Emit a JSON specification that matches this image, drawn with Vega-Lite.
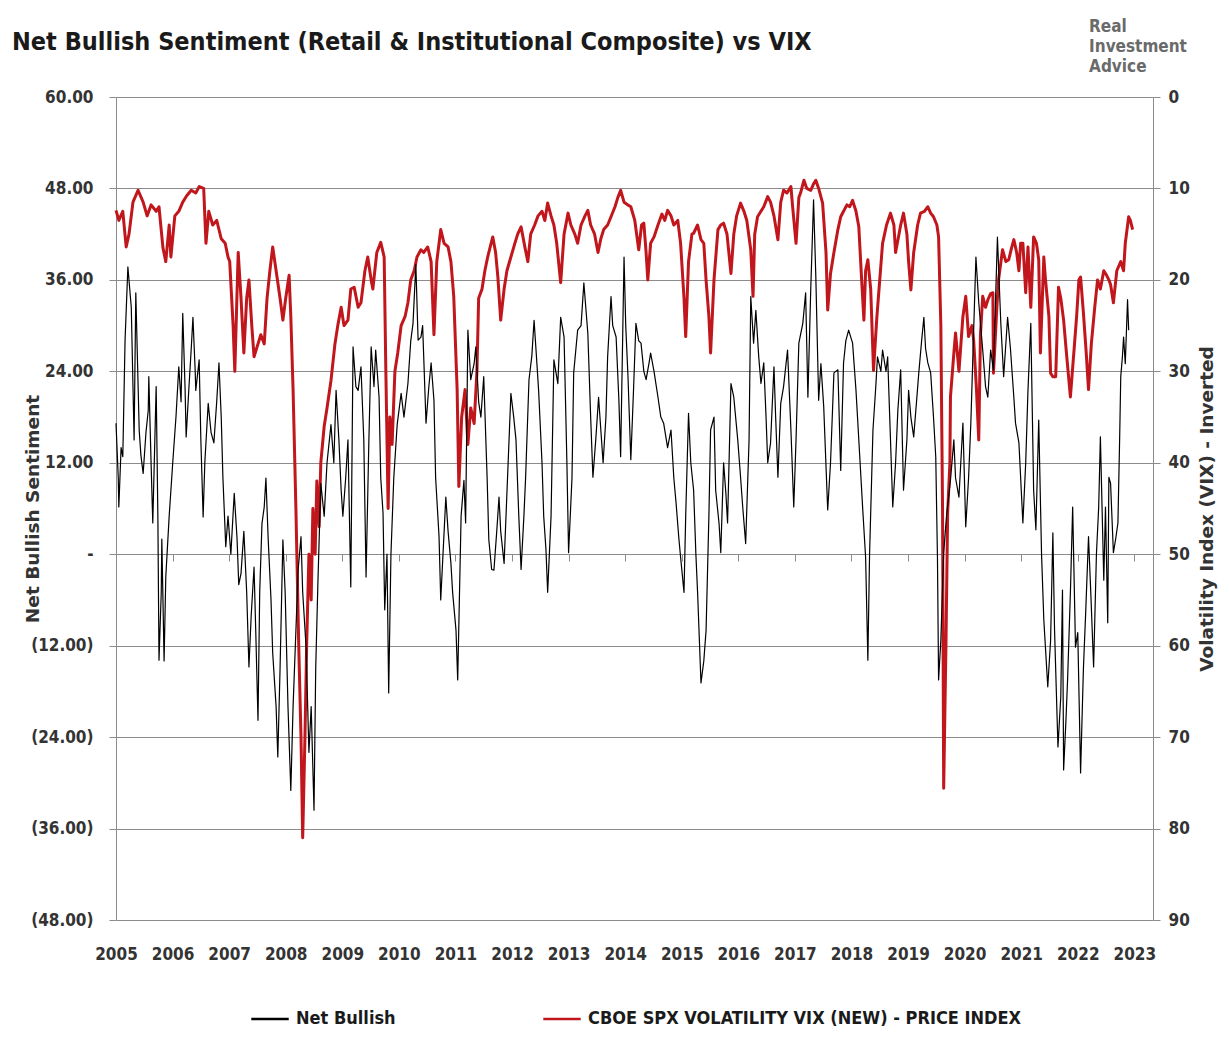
{
  "$schema": "https://vega.github.io/schema/vega-lite/v6.json",
  "width": 1037,
  "height": 823,
  "autosize": {"type": "none"},
  "padding": {"left": 116, "top": 97, "right": 76, "bottom": 142},
  "background": "white",
  "config": {"view": {"stroke": null}, "font": "DejaVu Sans Condensed, Roboto, sans-serif"},
  "title": {
    "text": "Net Bullish Sentiment (Retail & Institutional Composite) vs VIX",
    "anchor": "start",
    "frame": "group",
    "dx": -104,
    "offset": 0,
    "dy": 57,
    "baseline": "alphabetic",
    "fontSize": 25,
    "font": "DejaVu Sans Condensed, Roboto, sans-serif",
    "fontWeight": "bold",
    "color": "#1a1a1a"
  },
  "datasets": {
    "vix": [
      {"year": 2005.00, "value": 12.4}, {"year": 2005.05, "value": 13.5}, {"year": 2005.12, "value": 12.5}, {"year": 2005.18, "value": 16.4},
      {"year": 2005.23, "value": 15}, {"year": 2005.30, "value": 11.5}, {"year": 2005.39, "value": 10.2}, {"year": 2005.48, "value": 11.5},
      {"year": 2005.55, "value": 13}, {"year": 2005.62, "value": 11.8}, {"year": 2005.71, "value": 12.5}, {"year": 2005.76, "value": 12},
      {"year": 2005.83, "value": 16.5}, {"year": 2005.88, "value": 18}, {"year": 2005.94, "value": 14}, {"year": 2005.97, "value": 17.5},
      {"year": 2006.04, "value": 13}, {"year": 2006.11, "value": 12.5}, {"year": 2006.18, "value": 11.5}, {"year": 2006.25, "value": 10.8},
      {"year": 2006.33, "value": 10.2}, {"year": 2006.41, "value": 10.5}, {"year": 2006.47, "value": 9.8}, {"year": 2006.55, "value": 10},
      {"year": 2006.59, "value": 16}, {"year": 2006.64, "value": 12.5}, {"year": 2006.71, "value": 14}, {"year": 2006.78, "value": 13.5},
      {"year": 2006.86, "value": 15.5}, {"year": 2006.93, "value": 16}, {"year": 2006.98, "value": 17.5}, {"year": 2007.01, "value": 18},
      {"year": 2007.07, "value": 25}, {"year": 2007.10, "value": 30}, {"year": 2007.16, "value": 17}, {"year": 2007.21, "value": 22},
      {"year": 2007.26, "value": 28}, {"year": 2007.31, "value": 22}, {"year": 2007.35, "value": 20}, {"year": 2007.40, "value": 25},
      {"year": 2007.44, "value": 28.4}, {"year": 2007.51, "value": 27}, {"year": 2007.56, "value": 26}, {"year": 2007.62, "value": 27},
      {"year": 2007.67, "value": 22}, {"year": 2007.72, "value": 19}, {"year": 2007.77, "value": 16.4}, {"year": 2007.83, "value": 19},
      {"year": 2007.90, "value": 22}, {"year": 2007.95, "value": 24.4}, {"year": 2008.00, "value": 22}, {"year": 2008.06, "value": 19.5},
      {"year": 2008.09, "value": 24}, {"year": 2008.13, "value": 32}, {"year": 2008.18, "value": 45}, {"year": 2008.23, "value": 60},
      {"year": 2008.27, "value": 70}, {"year": 2008.30, "value": 81}, {"year": 2008.34, "value": 70}, {"year": 2008.37, "value": 60},
      {"year": 2008.41, "value": 50}, {"year": 2008.45, "value": 55}, {"year": 2008.48, "value": 45}, {"year": 2008.52, "value": 50},
      {"year": 2008.55, "value": 42}, {"year": 2008.59, "value": 47}, {"year": 2008.62, "value": 40}, {"year": 2008.68, "value": 36},
      {"year": 2008.73, "value": 34}, {"year": 2008.80, "value": 31}, {"year": 2008.87, "value": 27}, {"year": 2008.92, "value": 25},
      {"year": 2008.98, "value": 23}, {"year": 2009.03, "value": 25}, {"year": 2009.10, "value": 24.4}, {"year": 2009.15, "value": 21},
      {"year": 2009.21, "value": 20.8}, {"year": 2009.28, "value": 23}, {"year": 2009.33, "value": 22.5}, {"year": 2009.40, "value": 19},
      {"year": 2009.45, "value": 17.5}, {"year": 2009.51, "value": 20}, {"year": 2009.54, "value": 21}, {"year": 2009.61, "value": 17},
      {"year": 2009.68, "value": 15.9}, {"year": 2009.74, "value": 17.5}, {"year": 2009.77, "value": 30}, {"year": 2009.81, "value": 45},
      {"year": 2009.84, "value": 35}, {"year": 2009.88, "value": 38}, {"year": 2009.93, "value": 30}, {"year": 2009.98, "value": 28},
      {"year": 2010.04, "value": 25}, {"year": 2010.11, "value": 24}, {"year": 2010.16, "value": 22.5}, {"year": 2010.21, "value": 20},
      {"year": 2010.27, "value": 19}, {"year": 2010.32, "value": 17.5}, {"year": 2010.39, "value": 16.7}, {"year": 2010.44, "value": 17},
      {"year": 2010.51, "value": 16.4}, {"year": 2010.57, "value": 18}, {"year": 2010.62, "value": 26}, {"year": 2010.67, "value": 18},
      {"year": 2010.74, "value": 14.5}, {"year": 2010.80, "value": 16}, {"year": 2010.87, "value": 16.4}, {"year": 2010.92, "value": 18},
      {"year": 2010.97, "value": 21.8}, {"year": 2011.03, "value": 32}, {"year": 2011.06, "value": 42.6}, {"year": 2011.11, "value": 35},
      {"year": 2011.17, "value": 32}, {"year": 2011.22, "value": 38}, {"year": 2011.27, "value": 34}, {"year": 2011.33, "value": 35.7},
      {"year": 2011.38, "value": 30}, {"year": 2011.41, "value": 22}, {"year": 2011.47, "value": 21}, {"year": 2011.52, "value": 19},
      {"year": 2011.57, "value": 17.5}, {"year": 2011.63, "value": 16}, {"year": 2011.66, "value": 15.3}, {"year": 2011.71, "value": 17},
      {"year": 2011.75, "value": 19.7}, {"year": 2011.80, "value": 24.4}, {"year": 2011.86, "value": 21}, {"year": 2011.91, "value": 19},
      {"year": 2011.98, "value": 17.5}, {"year": 2012.05, "value": 16}, {"year": 2012.10, "value": 15}, {"year": 2012.16, "value": 14.2},
      {"year": 2012.23, "value": 16.5}, {"year": 2012.28, "value": 18}, {"year": 2012.33, "value": 15}, {"year": 2012.40, "value": 14},
      {"year": 2012.46, "value": 13}, {"year": 2012.53, "value": 12.5}, {"year": 2012.58, "value": 13.5}, {"year": 2012.63, "value": 11.6},
      {"year": 2012.69, "value": 13}, {"year": 2012.74, "value": 14}, {"year": 2012.79, "value": 16}, {"year": 2012.86, "value": 20.3},
      {"year": 2012.92, "value": 15}, {"year": 2012.99, "value": 12.7}, {"year": 2013.04, "value": 14}, {"year": 2013.11, "value": 15},
      {"year": 2013.16, "value": 16}, {"year": 2013.22, "value": 14}, {"year": 2013.29, "value": 13}, {"year": 2013.34, "value": 12.4},
      {"year": 2013.39, "value": 14}, {"year": 2013.46, "value": 15}, {"year": 2013.52, "value": 17}, {"year": 2013.57, "value": 15.5},
      {"year": 2013.62, "value": 14.5}, {"year": 2013.69, "value": 14}, {"year": 2013.75, "value": 13.1}, {"year": 2013.82, "value": 12},
      {"year": 2013.87, "value": 11}, {"year": 2013.92, "value": 10.2}, {"year": 2013.98, "value": 11.5}, {"year": 2014.05, "value": 11.8},
      {"year": 2014.10, "value": 12}, {"year": 2014.17, "value": 13.5}, {"year": 2014.24, "value": 16.7}, {"year": 2014.29, "value": 14},
      {"year": 2014.33, "value": 13.8}, {"year": 2014.37, "value": 17}, {"year": 2014.40, "value": 20}, {"year": 2014.45, "value": 16},
      {"year": 2014.51, "value": 15.3}, {"year": 2014.58, "value": 14}, {"year": 2014.65, "value": 12.8}, {"year": 2014.70, "value": 13.5},
      {"year": 2014.75, "value": 12.4}, {"year": 2014.81, "value": 13}, {"year": 2014.86, "value": 14}, {"year": 2014.93, "value": 13.5},
      {"year": 2014.98, "value": 16}, {"year": 2015.04, "value": 22}, {"year": 2015.07, "value": 26.2}, {"year": 2015.12, "value": 18},
      {"year": 2015.18, "value": 15}, {"year": 2015.21, "value": 14.9}, {"year": 2015.28, "value": 14}, {"year": 2015.34, "value": 15.6},
      {"year": 2015.39, "value": 16}, {"year": 2015.43, "value": 20}, {"year": 2015.48, "value": 24}, {"year": 2015.51, "value": 28},
      {"year": 2015.57, "value": 20}, {"year": 2015.64, "value": 14.5}, {"year": 2015.69, "value": 14}, {"year": 2015.74, "value": 13.8},
      {"year": 2015.80, "value": 15}, {"year": 2015.87, "value": 19.3}, {"year": 2015.92, "value": 15}, {"year": 2015.97, "value": 13},
      {"year": 2016.04, "value": 11.6}, {"year": 2016.10, "value": 12.5}, {"year": 2016.15, "value": 13.5}, {"year": 2016.22, "value": 16.7},
      {"year": 2016.26, "value": 21.8}, {"year": 2016.29, "value": 15}, {"year": 2016.34, "value": 13.1}, {"year": 2016.40, "value": 12.5},
      {"year": 2016.45, "value": 12}, {"year": 2016.52, "value": 10.9}, {"year": 2016.57, "value": 11.5}, {"year": 2016.63, "value": 13},
      {"year": 2016.70, "value": 15.6}, {"year": 2016.75, "value": 11.5}, {"year": 2016.80, "value": 10.2}, {"year": 2016.86, "value": 10.5},
      {"year": 2016.93, "value": 9.8}, {"year": 2016.96, "value": 12}, {"year": 2017.02, "value": 16}, {"year": 2017.07, "value": 11},
      {"year": 2017.10, "value": 10.5}, {"year": 2017.16, "value": 9.1}, {"year": 2017.21, "value": 10}, {"year": 2017.28, "value": 10.2},
      {"year": 2017.33, "value": 9.5}, {"year": 2017.37, "value": 9.1}, {"year": 2017.42, "value": 10}, {"year": 2017.49, "value": 11.6},
      {"year": 2017.55, "value": 17}, {"year": 2017.58, "value": 23.3}, {"year": 2017.63, "value": 19.3}, {"year": 2017.69, "value": 17},
      {"year": 2017.76, "value": 14.5}, {"year": 2017.81, "value": 13.1}, {"year": 2017.86, "value": 12.5}, {"year": 2017.92, "value": 11.8},
      {"year": 2017.97, "value": 12}, {"year": 2018.02, "value": 11.3}, {"year": 2018.08, "value": 12.5}, {"year": 2018.13, "value": 14.2},
      {"year": 2018.18, "value": 20}, {"year": 2018.22, "value": 24.4}, {"year": 2018.25, "value": 19}, {"year": 2018.29, "value": 17.8},
      {"year": 2018.34, "value": 21}, {"year": 2018.39, "value": 29.9}, {"year": 2018.45, "value": 24}, {"year": 2018.50, "value": 20},
      {"year": 2018.55, "value": 16}, {"year": 2018.62, "value": 14}, {"year": 2018.69, "value": 12.7}, {"year": 2018.75, "value": 14},
      {"year": 2018.78, "value": 17}, {"year": 2018.84, "value": 15}, {"year": 2018.87, "value": 14}, {"year": 2018.92, "value": 12.7},
      {"year": 2018.98, "value": 15}, {"year": 2019.01, "value": 18}, {"year": 2019.05, "value": 21.1}, {"year": 2019.10, "value": 17},
      {"year": 2019.17, "value": 14}, {"year": 2019.22, "value": 12.7}, {"year": 2019.29, "value": 12.5}, {"year": 2019.35, "value": 12},
      {"year": 2019.40, "value": 12.7}, {"year": 2019.45, "value": 13.1}, {"year": 2019.51, "value": 14}, {"year": 2019.54, "value": 15.3},
      {"year": 2019.58, "value": 25}, {"year": 2019.61, "value": 45}, {"year": 2019.63, "value": 75.6}, {"year": 2019.67, "value": 60},
      {"year": 2019.70, "value": 45.5}, {"year": 2019.74, "value": 40}, {"year": 2019.75, "value": 32.8}, {"year": 2019.81, "value": 28},
      {"year": 2019.84, "value": 25.8}, {"year": 2019.90, "value": 30}, {"year": 2019.97, "value": 24}, {"year": 2020.02, "value": 21.8},
      {"year": 2020.07, "value": 26.2}, {"year": 2020.13, "value": 25}, {"year": 2020.16, "value": 26.6}, {"year": 2020.21, "value": 32},
      {"year": 2020.25, "value": 37.5}, {"year": 2020.28, "value": 26}, {"year": 2020.32, "value": 21.8}, {"year": 2020.37, "value": 23},
      {"year": 2020.41, "value": 22.2}, {"year": 2020.46, "value": 21.5}, {"year": 2020.50, "value": 21.4}, {"year": 2020.51, "value": 30.2},
      {"year": 2020.57, "value": 23}, {"year": 2020.60, "value": 20}, {"year": 2020.67, "value": 16.7}, {"year": 2020.73, "value": 18},
      {"year": 2020.78, "value": 17.8}, {"year": 2020.83, "value": 16.5}, {"year": 2020.87, "value": 15.6}, {"year": 2020.92, "value": 17},
      {"year": 2020.96, "value": 19}, {"year": 2020.99, "value": 16}, {"year": 2021.03, "value": 16}, {"year": 2021.08, "value": 21.4},
      {"year": 2021.12, "value": 16.4}, {"year": 2021.17, "value": 23}, {"year": 2021.22, "value": 15.3}, {"year": 2021.27, "value": 16},
      {"year": 2021.31, "value": 17.8}, {"year": 2021.34, "value": 28}, {"year": 2021.40, "value": 17.5}, {"year": 2021.43, "value": 20},
      {"year": 2021.49, "value": 24}, {"year": 2021.52, "value": 30.2}, {"year": 2021.56, "value": 30.6}, {"year": 2021.61, "value": 30.6},
      {"year": 2021.66, "value": 20.8}, {"year": 2021.70, "value": 22}, {"year": 2021.75, "value": 24.4}, {"year": 2021.80, "value": 28},
      {"year": 2021.87, "value": 32.8}, {"year": 2021.93, "value": 28}, {"year": 2021.98, "value": 24}, {"year": 2022.02, "value": 20},
      {"year": 2022.05, "value": 19.7}, {"year": 2022.10, "value": 23.6}, {"year": 2022.15, "value": 28}, {"year": 2022.19, "value": 32},
      {"year": 2022.24, "value": 27}, {"year": 2022.30, "value": 23}, {"year": 2022.35, "value": 20}, {"year": 2022.40, "value": 21},
      {"year": 2022.46, "value": 19}, {"year": 2022.51, "value": 19.5}, {"year": 2022.55, "value": 20}, {"year": 2022.58, "value": 20.5},
      {"year": 2022.63, "value": 22.5}, {"year": 2022.69, "value": 19}, {"year": 2022.76, "value": 18}, {"year": 2022.81, "value": 19},
      {"year": 2022.84, "value": 16}, {"year": 2022.90, "value": 13.1}, {"year": 2022.93, "value": 13.5}, {"year": 2022.97, "value": 14.5}
    ],
    "net": [
      {"year": 2005.00, "value": 17.2}, {"year": 2005.04, "value": 10}, {"year": 2005.05, "value": 6.2}, {"year": 2005.09, "value": 14},
      {"year": 2005.12, "value": 12.8}, {"year": 2005.16, "value": 28}, {"year": 2005.21, "value": 37.7}, {"year": 2005.27, "value": 32.4},
      {"year": 2005.30, "value": 22}, {"year": 2005.32, "value": 15}, {"year": 2005.35, "value": 34.3}, {"year": 2005.41, "value": 16.3},
      {"year": 2005.44, "value": 13}, {"year": 2005.48, "value": 10.6}, {"year": 2005.53, "value": 16}, {"year": 2005.57, "value": 18.9},
      {"year": 2005.58, "value": 23.3}, {"year": 2005.62, "value": 12}, {"year": 2005.65, "value": 4.1}, {"year": 2005.71, "value": 22},
      {"year": 2005.74, "value": 5}, {"year": 2005.76, "value": -13.9}, {"year": 2005.80, "value": -5}, {"year": 2005.81, "value": 2},
      {"year": 2005.85, "value": -14}, {"year": 2005.88, "value": -3}, {"year": 2005.94, "value": 5}, {"year": 2006.01, "value": 12.8},
      {"year": 2006.06, "value": 18}, {"year": 2006.11, "value": 24.6}, {"year": 2006.15, "value": 20}, {"year": 2006.18, "value": 31.6},
      {"year": 2006.22, "value": 22}, {"year": 2006.24, "value": 15.4}, {"year": 2006.29, "value": 22}, {"year": 2006.33, "value": 27},
      {"year": 2006.36, "value": 31.1}, {"year": 2006.40, "value": 24}, {"year": 2006.41, "value": 21.5}, {"year": 2006.47, "value": 25.5},
      {"year": 2006.50, "value": 15}, {"year": 2006.54, "value": 4.9}, {"year": 2006.57, "value": 12}, {"year": 2006.63, "value": 19.8},
      {"year": 2006.68, "value": 16}, {"year": 2006.73, "value": 14.6}, {"year": 2006.78, "value": 20}, {"year": 2006.82, "value": 25.1},
      {"year": 2006.86, "value": 18}, {"year": 2006.89, "value": 10}, {"year": 2006.94, "value": 1}, {"year": 2006.98, "value": 5},
      {"year": 2007.03, "value": 0}, {"year": 2007.09, "value": 8}, {"year": 2007.14, "value": 2}, {"year": 2007.17, "value": -4},
      {"year": 2007.21, "value": -2.5}, {"year": 2007.26, "value": 3}, {"year": 2007.31, "value": -5}, {"year": 2007.35, "value": -14.8},
      {"year": 2007.39, "value": -8}, {"year": 2007.44, "value": -1.7}, {"year": 2007.47, "value": -10}, {"year": 2007.51, "value": -21.8},
      {"year": 2007.54, "value": -5}, {"year": 2007.58, "value": 4}, {"year": 2007.62, "value": 6.2}, {"year": 2007.65, "value": 10},
      {"year": 2007.69, "value": 2}, {"year": 2007.74, "value": -6}, {"year": 2007.77, "value": -13}, {"year": 2007.83, "value": -20},
      {"year": 2007.86, "value": -26.6}, {"year": 2007.90, "value": -15}, {"year": 2007.95, "value": 1.9}, {"year": 2007.99, "value": -5},
      {"year": 2008.04, "value": -20}, {"year": 2008.09, "value": -31}, {"year": 2008.13, "value": -20}, {"year": 2008.18, "value": -10},
      {"year": 2008.22, "value": -2}, {"year": 2008.27, "value": 2.3}, {"year": 2008.30, "value": -5}, {"year": 2008.36, "value": -12.2},
      {"year": 2008.41, "value": -26}, {"year": 2008.45, "value": -20}, {"year": 2008.50, "value": -33.6}, {"year": 2008.53, "value": -15},
      {"year": 2008.57, "value": -3.4}, {"year": 2008.62, "value": 9.3}, {"year": 2008.68, "value": 5}, {"year": 2008.73, "value": 12},
      {"year": 2008.80, "value": 17}, {"year": 2008.85, "value": 12}, {"year": 2008.89, "value": 21.5}, {"year": 2008.94, "value": 15},
      {"year": 2008.98, "value": 8.4}, {"year": 2009.01, "value": 5}, {"year": 2009.06, "value": 10}, {"year": 2009.10, "value": 15},
      {"year": 2009.15, "value": -4.3}, {"year": 2009.19, "value": 27.2}, {"year": 2009.24, "value": 22}, {"year": 2009.28, "value": 21.5},
      {"year": 2009.33, "value": 24.6}, {"year": 2009.38, "value": 15}, {"year": 2009.42, "value": -3}, {"year": 2009.47, "value": 15},
      {"year": 2009.51, "value": 27.2}, {"year": 2009.56, "value": 22}, {"year": 2009.59, "value": 26.8}, {"year": 2009.65, "value": 20.6},
      {"year": 2009.68, "value": 10}, {"year": 2009.72, "value": 5.4}, {"year": 2009.75, "value": -7.3}, {"year": 2009.79, "value": 0},
      {"year": 2009.82, "value": -18.2}, {"year": 2009.86, "value": 0}, {"year": 2009.91, "value": 10}, {"year": 2009.97, "value": 17},
      {"year": 2010.04, "value": 21.1}, {"year": 2010.09, "value": 18}, {"year": 2010.16, "value": 22.4}, {"year": 2010.21, "value": 28},
      {"year": 2010.25, "value": 30.3}, {"year": 2010.30, "value": 38}, {"year": 2010.34, "value": 28.1}, {"year": 2010.39, "value": 28.5},
      {"year": 2010.42, "value": 30}, {"year": 2010.48, "value": 17.2}, {"year": 2010.53, "value": 22}, {"year": 2010.57, "value": 25.1},
      {"year": 2010.62, "value": 20.2}, {"year": 2010.65, "value": 10}, {"year": 2010.71, "value": 2.3}, {"year": 2010.74, "value": -6},
      {"year": 2010.80, "value": 3}, {"year": 2010.83, "value": 7.5}, {"year": 2010.87, "value": 3}, {"year": 2010.92, "value": -1.2},
      {"year": 2010.95, "value": -5}, {"year": 2011.01, "value": -10}, {"year": 2011.04, "value": -16.5}, {"year": 2011.10, "value": 5},
      {"year": 2011.15, "value": 9.7}, {"year": 2011.18, "value": 4.1}, {"year": 2011.22, "value": 29.4}, {"year": 2011.27, "value": 22.9},
      {"year": 2011.33, "value": 25}, {"year": 2011.36, "value": 27.2}, {"year": 2011.41, "value": 20}, {"year": 2011.45, "value": 18},
      {"year": 2011.50, "value": 23.3}, {"year": 2011.56, "value": 10}, {"year": 2011.59, "value": 1.9}, {"year": 2011.64, "value": -2},
      {"year": 2011.68, "value": -2.1}, {"year": 2011.73, "value": 3}, {"year": 2011.77, "value": 7.5}, {"year": 2011.80, "value": 3},
      {"year": 2011.86, "value": -1.2}, {"year": 2011.91, "value": 8}, {"year": 2011.98, "value": 21.1}, {"year": 2012.03, "value": 18},
      {"year": 2012.07, "value": 15}, {"year": 2012.12, "value": 5}, {"year": 2012.16, "value": -2}, {"year": 2012.21, "value": 5},
      {"year": 2012.24, "value": 10}, {"year": 2012.30, "value": 22.9}, {"year": 2012.35, "value": 26}, {"year": 2012.39, "value": 30.7},
      {"year": 2012.44, "value": 25}, {"year": 2012.47, "value": 21.5}, {"year": 2012.53, "value": 12}, {"year": 2012.56, "value": 5},
      {"year": 2012.60, "value": 0.6}, {"year": 2012.63, "value": -5}, {"year": 2012.69, "value": 5}, {"year": 2012.74, "value": 25.5},
      {"year": 2012.81, "value": 22.4}, {"year": 2012.86, "value": 31.1}, {"year": 2012.92, "value": 28.5}, {"year": 2012.97, "value": 12},
      {"year": 2013.00, "value": 0.2}, {"year": 2013.06, "value": 10}, {"year": 2013.09, "value": 23.8}, {"year": 2013.16, "value": 29.4},
      {"year": 2013.22, "value": 30}, {"year": 2013.27, "value": 35.6}, {"year": 2013.34, "value": 29}, {"year": 2013.39, "value": 18},
      {"year": 2013.43, "value": 10.1}, {"year": 2013.48, "value": 15}, {"year": 2013.53, "value": 20.6}, {"year": 2013.61, "value": 12},
      {"year": 2013.66, "value": 18}, {"year": 2013.69, "value": 25.9}, {"year": 2013.75, "value": 33.8}, {"year": 2013.78, "value": 30},
      {"year": 2013.84, "value": 28.5}, {"year": 2013.89, "value": 20}, {"year": 2013.92, "value": 12.8}, {"year": 2013.98, "value": 39},
      {"year": 2014.01, "value": 30}, {"year": 2014.05, "value": 23.3}, {"year": 2014.10, "value": 12.4}, {"year": 2014.15, "value": 22},
      {"year": 2014.19, "value": 30.3}, {"year": 2014.24, "value": 28}, {"year": 2014.28, "value": 27.7}, {"year": 2014.33, "value": 24},
      {"year": 2014.37, "value": 22.9}, {"year": 2014.42, "value": 25}, {"year": 2014.45, "value": 26.4}, {"year": 2014.51, "value": 24},
      {"year": 2014.58, "value": 20.6}, {"year": 2014.63, "value": 18}, {"year": 2014.68, "value": 17.2}, {"year": 2014.75, "value": 14},
      {"year": 2014.81, "value": 16.3}, {"year": 2014.86, "value": 10}, {"year": 2014.90, "value": 6.7}, {"year": 2014.95, "value": 2},
      {"year": 2014.98, "value": -0.4}, {"year": 2015.04, "value": -5}, {"year": 2015.07, "value": 5}, {"year": 2015.12, "value": 18.5},
      {"year": 2015.16, "value": 12}, {"year": 2015.21, "value": 8.4}, {"year": 2015.25, "value": 0}, {"year": 2015.28, "value": -5},
      {"year": 2015.34, "value": -16.9}, {"year": 2015.39, "value": -14}, {"year": 2015.43, "value": -10}, {"year": 2015.48, "value": 5},
      {"year": 2015.51, "value": 16.3}, {"year": 2015.57, "value": 18}, {"year": 2015.60, "value": 8.4}, {"year": 2015.66, "value": 4},
      {"year": 2015.69, "value": 0.2}, {"year": 2015.74, "value": 12}, {"year": 2015.78, "value": 8}, {"year": 2015.81, "value": 4.1},
      {"year": 2015.87, "value": 22.4}, {"year": 2015.92, "value": 20.6}, {"year": 2015.99, "value": 15}, {"year": 2016.04, "value": 10.1},
      {"year": 2016.08, "value": 6}, {"year": 2016.13, "value": 1.4}, {"year": 2016.19, "value": 15}, {"year": 2016.22, "value": 33.8},
      {"year": 2016.27, "value": 27.7}, {"year": 2016.31, "value": 32}, {"year": 2016.36, "value": 26}, {"year": 2016.40, "value": 22.4},
      {"year": 2016.45, "value": 25.1}, {"year": 2016.49, "value": 18}, {"year": 2016.52, "value": 12}, {"year": 2016.57, "value": 14.6},
      {"year": 2016.63, "value": 24.6}, {"year": 2016.66, "value": 18}, {"year": 2016.70, "value": 10.1}, {"year": 2016.75, "value": 19.8},
      {"year": 2016.80, "value": 22}, {"year": 2016.87, "value": 26.8}, {"year": 2016.93, "value": 16.3}, {"year": 2016.98, "value": 6.2},
      {"year": 2017.02, "value": 15}, {"year": 2017.07, "value": 27.7}, {"year": 2017.14, "value": 30.3}, {"year": 2017.19, "value": 34.3},
      {"year": 2017.23, "value": 20.6}, {"year": 2017.28, "value": 34.7}, {"year": 2017.33, "value": 46.5}, {"year": 2017.37, "value": 36.4},
      {"year": 2017.42, "value": 20.2}, {"year": 2017.46, "value": 25}, {"year": 2017.51, "value": 19.3}, {"year": 2017.58, "value": 5.8},
      {"year": 2017.63, "value": 12}, {"year": 2017.69, "value": 23.8}, {"year": 2017.76, "value": 24.2}, {"year": 2017.81, "value": 11},
      {"year": 2017.86, "value": 25.1}, {"year": 2017.90, "value": 28}, {"year": 2017.95, "value": 29.4}, {"year": 2018.02, "value": 27.7},
      {"year": 2018.08, "value": 21.5}, {"year": 2018.13, "value": 15}, {"year": 2018.20, "value": 5.8}, {"year": 2018.25, "value": -0.4},
      {"year": 2018.29, "value": -13.9}, {"year": 2018.32, "value": 0}, {"year": 2018.38, "value": 16.3}, {"year": 2018.43, "value": 22},
      {"year": 2018.46, "value": 25.9}, {"year": 2018.52, "value": 24}, {"year": 2018.55, "value": 26.8}, {"year": 2018.61, "value": 24},
      {"year": 2018.64, "value": 25.9}, {"year": 2018.69, "value": 15}, {"year": 2018.73, "value": 6.2}, {"year": 2018.78, "value": 12},
      {"year": 2018.82, "value": 18.9}, {"year": 2018.87, "value": 24.2}, {"year": 2018.92, "value": 8.4}, {"year": 2018.98, "value": 15},
      {"year": 2019.01, "value": 21.5}, {"year": 2019.05, "value": 18}, {"year": 2019.10, "value": 15.4}, {"year": 2019.15, "value": 20},
      {"year": 2019.19, "value": 23.8}, {"year": 2019.24, "value": 28}, {"year": 2019.28, "value": 31.1}, {"year": 2019.31, "value": 27},
      {"year": 2019.35, "value": 25.1}, {"year": 2019.40, "value": 23.8}, {"year": 2019.45, "value": 18}, {"year": 2019.49, "value": 12.8},
      {"year": 2019.52, "value": -0.4}, {"year": 2019.54, "value": -16.5}, {"year": 2019.58, "value": -11.3}, {"year": 2019.63, "value": 0.2},
      {"year": 2019.68, "value": 5}, {"year": 2019.75, "value": 9.7}, {"year": 2019.81, "value": 15}, {"year": 2019.84, "value": 10},
      {"year": 2019.90, "value": 7.5}, {"year": 2019.97, "value": 17.2}, {"year": 2020.02, "value": 3.6}, {"year": 2020.07, "value": 10},
      {"year": 2020.11, "value": 17.2}, {"year": 2020.16, "value": 29.4}, {"year": 2020.20, "value": 39}, {"year": 2020.25, "value": 33},
      {"year": 2020.32, "value": 26.8}, {"year": 2020.37, "value": 22}, {"year": 2020.41, "value": 20.6}, {"year": 2020.46, "value": 26.8},
      {"year": 2020.51, "value": 24.2}, {"year": 2020.58, "value": 41.6}, {"year": 2020.64, "value": 30.3}, {"year": 2020.69, "value": 23.3},
      {"year": 2020.76, "value": 31.1}, {"year": 2020.81, "value": 27}, {"year": 2020.87, "value": 20.6}, {"year": 2020.90, "value": 17.2},
      {"year": 2020.96, "value": 14.6}, {"year": 2021.03, "value": 4.1}, {"year": 2021.08, "value": 12}, {"year": 2021.12, "value": 21.5},
      {"year": 2021.17, "value": 30.3}, {"year": 2021.22, "value": 8.4}, {"year": 2021.26, "value": 3.2}, {"year": 2021.31, "value": 17.6},
      {"year": 2021.36, "value": 0}, {"year": 2021.40, "value": -8.6}, {"year": 2021.47, "value": -17.4}, {"year": 2021.52, "value": -11.3},
      {"year": 2021.56, "value": 2.8}, {"year": 2021.59, "value": -10}, {"year": 2021.65, "value": -25.3}, {"year": 2021.70, "value": -18.7},
      {"year": 2021.73, "value": -4.7}, {"year": 2021.75, "value": -28.3}, {"year": 2021.79, "value": -22}, {"year": 2021.82, "value": -16.5},
      {"year": 2021.87, "value": -5}, {"year": 2021.91, "value": 6.2}, {"year": 2021.96, "value": -12.2}, {"year": 2022.00, "value": -10.3},
      {"year": 2022.05, "value": -28.7}, {"year": 2022.10, "value": -15}, {"year": 2022.14, "value": -7.7}, {"year": 2022.19, "value": 2.3},
      {"year": 2022.23, "value": -5}, {"year": 2022.28, "value": -14.8}, {"year": 2022.33, "value": 0}, {"year": 2022.37, "value": 6.2},
      {"year": 2022.40, "value": 15.4}, {"year": 2022.46, "value": -3.4}, {"year": 2022.49, "value": 6.2}, {"year": 2022.53, "value": -9},
      {"year": 2022.55, "value": 10.1}, {"year": 2022.58, "value": 9.3}, {"year": 2022.63, "value": 0.2}, {"year": 2022.67, "value": 2},
      {"year": 2022.71, "value": 4.1}, {"year": 2022.74, "value": 15}, {"year": 2022.76, "value": 23.3}, {"year": 2022.79, "value": 26},
      {"year": 2022.81, "value": 28.5}, {"year": 2022.84, "value": 25}, {"year": 2022.88, "value": 33.4}, {"year": 2022.90, "value": 29.4}
    ],
    "logo": [{"label": "Real\nInvestment\nAdvice"}]
  },
  "layer": [
    {
      "data": {"name": "vix"},
      "mark": {"type": "line", "strokeWidth": 3, "strokeJoin": "round"},
      "encoding": {
        "x": {
          "field": "year", "type": "quantitative",
          "scale": {"domain": [2005, 2023.33], "nice": false, "zero": false},
          "axis": {"orient": "top", "offset": -457, "values": [2005,2006,2007,2008,2009,2010,2011,2012,2013,2014,2015,2016,2017,2018,2019,2020,2021,2022,2023],
                   "labels": false, "domain": false, "grid": false, "ticks": true, "tickSize": -7, "tickColor": "#8c8c8c", "title": null}
        },
        "y": {
          "field": "value", "type": "quantitative",
          "scale": {"domain": [0, 90], "reverse": true, "nice": false, "zero": false},
          "axis": {
            "orient": "right", "values": [0,10,20,30,40,50,60,70,80,90], "grid": false,
            "domainColor": "#8c8c8c", "tickColor": "#8c8c8c", "tickSize": 7,
            "labelFont": "DejaVu Sans Condensed, Roboto, sans-serif", "labelFontSize": 17, "labelFontWeight": "bold", "labelColor": "#333333", "labelPadding": 8,
            "title": "Volatility Index (VIX) - Inverted", "titleAngle": 270, "titleBaseline": "top", "titleFont": "DejaVu Sans", "titleFontSize": 18.5, "titleFontWeight": "bold", "titleColor": "#333333", "titlePadding": 8
          }
        },
        "color": {
          "datum": "CBOE SPX VOLATILITY VIX (NEW) - PRICE INDEX",
          "scale": {"domain": ["Net Bullish", "CBOE SPX VOLATILITY VIX (NEW) - PRICE INDEX"], "range": ["#000000", "#c0161c"]},
          "legend": {
            "orient": "none", "legendX": 134, "legendY": 902, "direction": "horizontal", "title": null,
            "symbolType": "stroke", "symbolSize": 1400, "symbolStrokeWidth": 2.5, "labelFont": "DejaVu Sans Condensed, Roboto, sans-serif",
            "labelFontSize": 18, "labelFontWeight": "bold", "labelColor": "#1a1a1a", "labelLimit": 0, "columnPadding": 142, "labelOffset": 6
          }
        }
      }
    },
    {
      "data": {"name": "net"},
      "mark": {"type": "line", "strokeWidth": 1.2, "strokeJoin": "round"},
      "encoding": {
        "x": {
          "field": "year", "type": "quantitative",
          "scale": {"domain": [2005, 2023.33], "nice": false, "zero": false},
          "axis": {"orient": "bottom", "values": [2005,2006,2007,2008,2009,2010,2011,2012,2013,2014,2015,2016,2017,2018,2019,2020,2021,2022,2023],
                   "format": "d", "labels": true, "labelOverlap": false, "labelFlush": false, "domain": false, "grid": false, "ticks": false, "labelPadding": 26,
                   "labelFont": "DejaVu Sans Condensed, Roboto, sans-serif", "labelFontSize": 17, "labelFontWeight": "bold", "labelColor": "#333333", "title": null}
        },
        "y": {
          "field": "value", "type": "quantitative",
          "scale": {"domain": [-48, 60], "nice": false, "zero": false},
          "axis": {
            "orient": "left", "values": [-48,-36,-24,-12,0,12,24,36,48,60], "grid": true, "gridColor": "#8c8c8c", "gridWidth": 1.2,
            "domainColor": "#8c8c8c", "tickColor": "#8c8c8c", "tickSize": 7, "labelOverlap": false,
            "labelExpr": "datum.value == 0 ? '-' : (datum.value < 0 ? '(' + format(-datum.value, '.2f') + ')' : format(datum.value, '.2f'))",
            "labelFont": "DejaVu Sans Condensed, Roboto, sans-serif", "labelFontSize": 17, "labelFontWeight": "bold", "labelColor": "#333333", "labelPadding": 16,
            "title": "Net Bullish Sentiment", "titleFont": "DejaVu Sans", "titleFontSize": 18.5, "titleFontWeight": "bold", "titleColor": "#333333", "titlePadding": -12
          }
        },
        "color": {"datum": "Net Bullish"}
      }
    },
    {
      "data": {"name": "logo"},
      "mark": {"type": "text", "align": "left", "baseline": "top", "lineBreak": "\n", "lineHeight": 20, "font": "DejaVu Sans Condensed, Roboto, sans-serif", "fontSize": 17, "fontWeight": "bold", "color": "#6a6a6a"},
      "encoding": {
        "x": {"datum": 2022.2, "type": "quantitative", "axis": null},
        "y": {"datum": 70.3, "type": "quantitative", "scale": {"domain": [-48, 60], "nice": false, "zero": false}, "axis": null},
        "text": {"field": "label"}
      }
    }
  ],
  "resolve": {"scale": {"y": "independent"}, "axis": {"x": "independent", "y": "independent"}}
}
